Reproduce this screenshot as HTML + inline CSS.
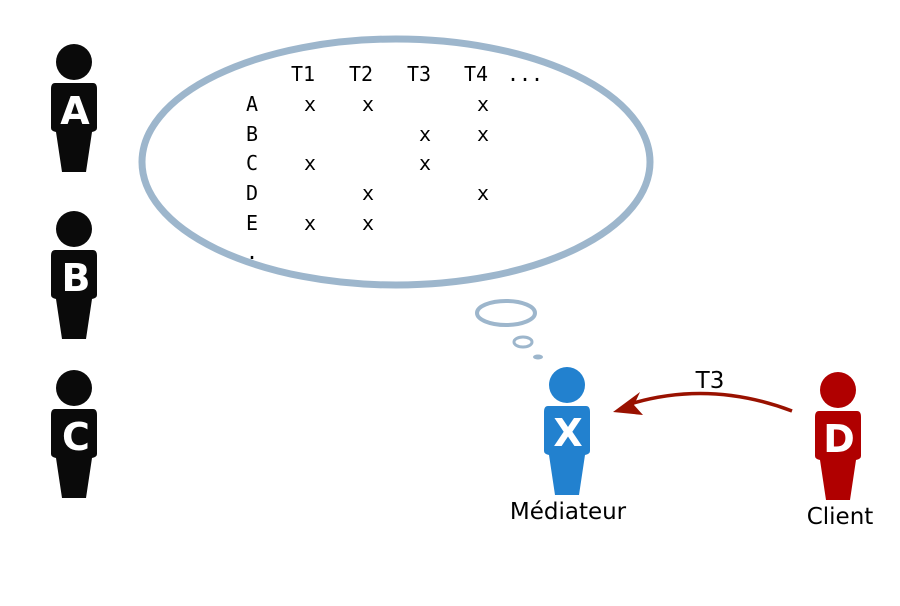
<!DOCTYPE html>
<html><head><meta charset="utf-8"><style>body{margin:0;background:#fff}</style></head><body>
<svg width="900" height="601" xmlns="http://www.w3.org/2000/svg" font-family="Liberation Sans, DejaVu Sans, sans-serif">
<defs>
<g id="p">
<circle cx="0" cy="0" r="18"/>
<path d="M-19,21 Q-23,21 -23,27 L-23,66 Q-23,69 -18,70 L-12,110 L12,110 L18,70 Q23,69 23,66 L23,27 Q23,21 19,21 Z"/>
</g>
</defs>
<g fill="#0a0a0a">
<use href="#p" x="74" y="62"/>
<use href="#p" x="74" y="229"/>
<use href="#p" x="74" y="388"/>
</g>
<use href="#p" x="567" y="385" fill="#2281cf"/>
<use href="#p" x="838" y="390" fill="#b00000"/>
<g fill="#fff" font-weight="bold" font-size="38" text-anchor="middle" font-family="DejaVu Sans, sans-serif">
<text x="75" y="124">A</text>
<text x="76" y="291">B</text>
<text x="76" y="450">C</text>
<text x="568" y="446">X</text>
<text x="839" y="452">D</text>
</g>
<ellipse cx="396" cy="162" rx="254" ry="123" fill="none" stroke="#9db6cc" stroke-width="7"/>
<ellipse cx="506" cy="313" rx="29" ry="12" fill="none" stroke="#9db6cc" stroke-width="4"/>
<ellipse cx="523" cy="342" rx="9" ry="5" fill="none" stroke="#9db6cc" stroke-width="3"/>
<ellipse cx="538" cy="357" rx="5" ry="2.5" fill="#9db6cc"/>
<g font-family="DejaVu Sans Mono, Liberation Mono, monospace" font-size="20" fill="#000" text-anchor="middle">
<text x="303" y="81">T1</text><text x="361" y="81">T2</text><text x="419" y="81">T3</text><text x="476" y="81">T4</text><text x="525" y="81">...</text>
<text x="252" y="111">A</text><text x="310" y="111">x</text><text x="368" y="111">x</text><text x="483" y="111">x</text>
<text x="252" y="141">B</text><text x="425" y="141">x</text><text x="483" y="141">x</text>
<text x="252" y="170">C</text><text x="310" y="170">x</text><text x="425" y="170">x</text>
<text x="252" y="200">D</text><text x="368" y="200">x</text><text x="483" y="200">x</text>
<text x="252" y="230">E</text><text x="310" y="230">x</text><text x="368" y="230">x</text>
<text x="252" y="259">.</text>
</g>
<path d="M792,411 Q710,380 630,404" fill="none" stroke="#991100" stroke-width="3.5"/>
<path d="M613,412 L640,392 L634,405 L643,415 Z" fill="#991100"/>
<g font-family="DejaVu Sans, sans-serif" font-size="23" fill="#000" text-anchor="middle">
<text x="710" y="388">T3</text>
<text x="568" y="519">Médiateur</text>
<text x="840" y="524">Client</text>
</g>
</svg>
</body></html>
